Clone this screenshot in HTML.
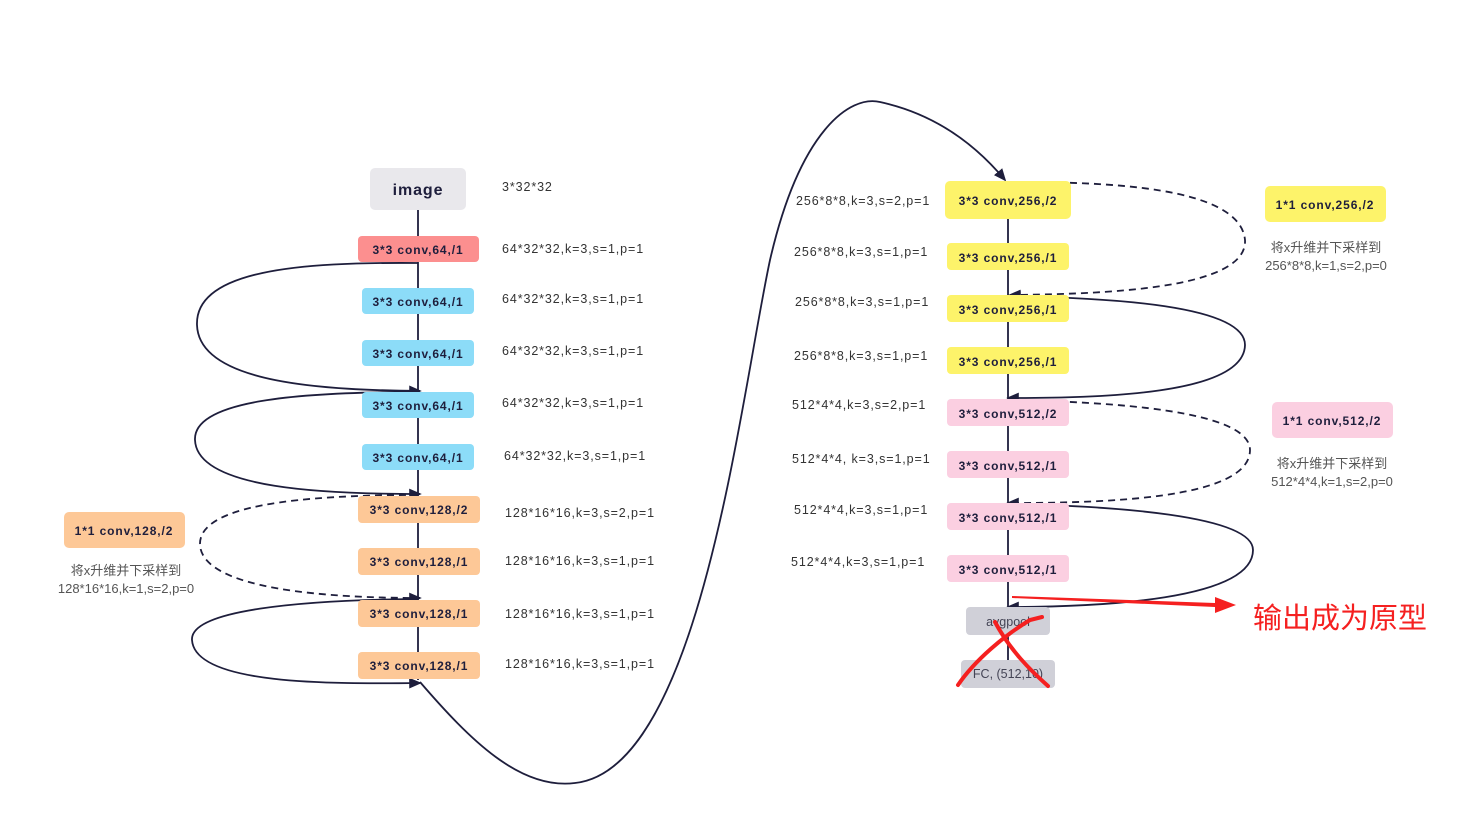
<!DOCTYPE html>
<html><head><meta charset="utf-8"><style>
html,body{margin:0;padding:0;background:#fff;}
svg{display:block}
.b{font-family:"Liberation Sans","Noto Sans CJK SC",sans-serif;font-weight:bold;font-size:12px;letter-spacing:0.9px;fill:#1e1e3c}
.l{font-family:"Liberation Sans","Noto Sans CJK SC",sans-serif;font-size:12.5px;letter-spacing:0.9px;fill:#333}
.c{font-family:"Liberation Sans","Noto Sans CJK SC",sans-serif;font-size:13px;fill:#555}
</style></head><body>
<svg width="1459" height="834" viewBox="0 0 1459 834" xmlns="http://www.w3.org/2000/svg">
<defs><marker id="a" markerWidth="8" markerHeight="8" refX="6" refY="4" orient="auto"><path d="M0,1 L7,4 L0,7z" fill="#1e1e3c"/></marker></defs>
<g stroke="#1e1e3c" stroke-width="1.8" fill="none">
<line x1="418" y1="210" x2="418" y2="680"/>
<line x1="1008" y1="219" x2="1008" y2="607"/>
<line x1="1008" y1="635" x2="1008" y2="660"/>
<path d="M418,263 C300,262 195,270 197,325 C199,385 330,390 420,391" marker-end="url(#a)"/>
<path d="M418,392 C300,392 193,400 195,440 C197,490 330,494 420,494" marker-end="url(#a)"/>
<path d="M418,495 C300,495 198,505 200,545 C203,590 330,598 420,598" stroke-dasharray="7,5" marker-end="url(#a)"/>
<path d="M418,599 C300,600 190,610 192,640 C195,685 330,684 420,683" marker-end="url(#a)"/>
<path d="M420,682 C470,740 520,790 575,783 C700,770 740,400 770,260 C800,130 850,95 880,102 C940,115 980,150 1005,180" marker-end="url(#a)"/>
<path d="M1010,182 C1100,182 1240,185 1245,240 C1248,290 1100,294 1010,295" stroke-dasharray="7,5" marker-end="url(#a)"/>
<path d="M1010,296 C1110,298 1245,305 1245,345 C1244,395 1100,398 1008,398" marker-end="url(#a)"/>
<path d="M1010,400 C1110,402 1250,410 1250,450 C1250,500 1100,503 1008,503" stroke-dasharray="7,5" marker-end="url(#a)"/>
<path d="M1010,504 C1110,506 1253,515 1253,550 C1253,600 1100,607 1008,607" marker-end="url(#a)"/>
</g>
<rect x="370" y="168" width="96" height="42" rx="5" fill="#e9e8ec"/><text x="418" y="195" text-anchor="middle" class="b" style="font-size:16px">image</text>
<rect x="358" y="236" width="121" height="26" rx="4" fill="#fc8f8f"/><text x="418" y="254" text-anchor="middle" class="b">3*3 conv,64,/1</text>
<g fill="#8cdcf8">
<rect x="362" y="288" width="112" height="26" rx="4"/><rect x="362" y="340" width="112" height="26" rx="4"/><rect x="362" y="392" width="112" height="26" rx="4"/><rect x="362" y="444" width="112" height="26" rx="4"/></g>
<text x="418" y="306" text-anchor="middle" class="b">3*3 conv,64,/1</text><text x="418" y="358" text-anchor="middle" class="b">3*3 conv,64,/1</text><text x="418" y="410" text-anchor="middle" class="b">3*3 conv,64,/1</text><text x="418" y="462" text-anchor="middle" class="b">3*3 conv,64,/1</text>
<g fill="#fdc897">
<rect x="358" y="496" width="122" height="27" rx="4"/><rect x="358" y="548" width="122" height="27" rx="4"/><rect x="358" y="600" width="122" height="27" rx="4"/><rect x="358" y="652" width="122" height="27" rx="4"/><rect x="64" y="512" width="121" height="36" rx="5"/></g>
<text x="419" y="514" text-anchor="middle" class="b">3*3 conv,128,/2</text><text x="419" y="566" text-anchor="middle" class="b">3*3 conv,128,/1</text><text x="419" y="618" text-anchor="middle" class="b">3*3 conv,128,/1</text><text x="419" y="670" text-anchor="middle" class="b">3*3 conv,128,/1</text><text x="124" y="535" text-anchor="middle" class="b">1*1 conv,128,/2</text>
<text x="126" y="575" text-anchor="middle" class="c">将x升维并下采样到</text><text x="126" y="593" text-anchor="middle" class="c">128*16*16,k=1,s=2,p=0</text>
<g fill="#fdf36a">
<rect x="945" y="181" width="126" height="38" rx="5"/><rect x="947" y="243" width="122" height="27" rx="4"/><rect x="947" y="295" width="122" height="27" rx="4"/><rect x="947" y="347" width="122" height="27" rx="4"/><rect x="1265" y="186" width="121" height="36" rx="5"/></g>
<text x="1008" y="205" text-anchor="middle" class="b">3*3 conv,256,/2</text><text x="1008" y="262" text-anchor="middle" class="b">3*3 conv,256,/1</text><text x="1008" y="314" text-anchor="middle" class="b">3*3 conv,256,/1</text><text x="1008" y="366" text-anchor="middle" class="b">3*3 conv,256,/1</text><text x="1325" y="209" text-anchor="middle" class="b">1*1 conv,256,/2</text>
<text x="1326" y="252" text-anchor="middle" class="c">将x升维并下采样到</text><text x="1326" y="270" text-anchor="middle" class="c">256*8*8,k=1,s=2,p=0</text>
<g fill="#fbcfe1">
<rect x="947" y="399" width="122" height="27" rx="4"/><rect x="947" y="451" width="122" height="27" rx="4"/><rect x="947" y="503" width="122" height="27" rx="4"/><rect x="947" y="555" width="122" height="27" rx="4"/><rect x="1272" y="402" width="121" height="36" rx="5"/></g>
<text x="1008" y="418" text-anchor="middle" class="b">3*3 conv,512,/2</text><text x="1008" y="470" text-anchor="middle" class="b">3*3 conv,512,/1</text><text x="1008" y="522" text-anchor="middle" class="b">3*3 conv,512,/1</text><text x="1008" y="574" text-anchor="middle" class="b">3*3 conv,512,/1</text><text x="1332" y="425" text-anchor="middle" class="b">1*1 conv,512,/2</text>
<text x="1332" y="468" text-anchor="middle" class="c">将x升维并下采样到</text><text x="1332" y="486" text-anchor="middle" class="c">512*4*4,k=1,s=2,p=0</text>
<rect x="966" y="607" width="84" height="28" rx="4" fill="#d0d0d8"/><text x="1008" y="626" text-anchor="middle" class="l" style="fill:#445;letter-spacing:0">avgpool</text>
<rect x="961" y="660" width="94" height="28" rx="4" fill="#d0d0d8"/><text x="1008" y="678" text-anchor="middle" class="l" style="fill:#445;letter-spacing:0">FC, (512,10)</text>
<g stroke="#f52020" stroke-width="4" fill="none" stroke-linecap="round">
<path d="M1042,617 L1030,620 C1005,635 975,660 958,685"/><path d="M995,622 C1010,650 1030,670 1048,686"/>
</g>
<path d="M1012,596 L1215,603 L1215,597 L1236,605 L1215,613 L1215,607 L1012,598z" fill="#f52020"/>
<text x="1253" y="628" style="font-family:'Noto Sans CJK SC',sans-serif;font-size:29px;fill:#f52020">输出成为原型</text>
<text x="502" y="191" class="l">3*32*32</text>
<text x="502" y="253" class="l">64*32*32,k=3,s=1,p=1</text>
<text x="502" y="303" class="l">64*32*32,k=3,s=1,p=1</text>
<text x="502" y="355" class="l">64*32*32,k=3,s=1,p=1</text>
<text x="502" y="407" class="l">64*32*32,k=3,s=1,p=1</text>
<text x="504" y="460" class="l">64*32*32,k=3,s=1,p=1</text>
<text x="505" y="517" class="l">128*16*16,k=3,s=2,p=1</text>
<text x="505" y="565" class="l">128*16*16,k=3,s=1,p=1</text>
<text x="505" y="618" class="l">128*16*16,k=3,s=1,p=1</text>
<text x="505" y="668" class="l">128*16*16,k=3,s=1,p=1</text>
<text x="796" y="205" class="l">256*8*8,k=3,s=2,p=1</text>
<text x="794" y="256" class="l">256*8*8,k=3,s=1,p=1</text>
<text x="795" y="306" class="l">256*8*8,k=3,s=1,p=1</text>
<text x="794" y="360" class="l">256*8*8,k=3,s=1,p=1</text>
<text x="792" y="409" class="l">512*4*4,k=3,s=2,p=1</text>
<text x="792" y="463" class="l">512*4*4, k=3,s=1,p=1</text>
<text x="794" y="514" class="l">512*4*4,k=3,s=1,p=1</text>
<text x="791" y="566" class="l">512*4*4,k=3,s=1,p=1</text>
</svg>
</body></html>
